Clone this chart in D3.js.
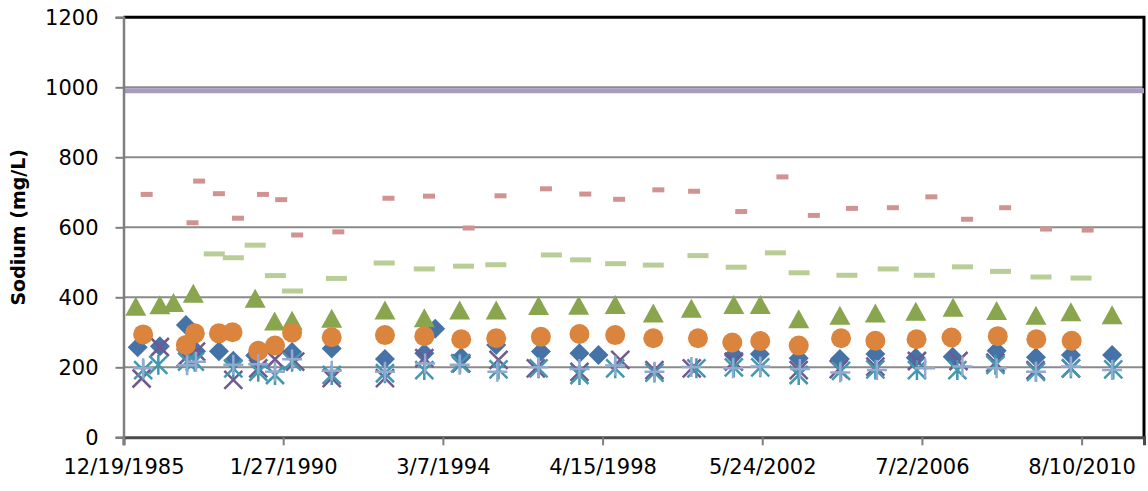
<!DOCTYPE html>
<html>
<head>
<meta charset="utf-8">
<script src="https://cdn.jsdelivr.net/npm/d3@7"></script>
<style>
  body { margin: 0; background: #fff; }
  text { font-family: "DejaVu Sans", sans-serif; fill: #000; }
</style>
</head>
<body>
<div class="content"></div>
<script>
const SVG_WIDTH = 1148
const SVG_HEIGHT = 491

// axis settings
const xStart = new Date(1985, 11, 19)
const xEnd = new Date(2012, 2, 18)
const xTickStepDays = 1500
const xTickCount = 7
const yTicks = [0, 200, 400, 600, 800, 1000, 1200]

// [decimal year, sodium mg/L]
const diamondData = [[1986.33,257],[1986.90,260],[1987.57,321],[1987.83,246],[1988.42,246],[1988.79,219],[1989.35,234],[1990.30,244],[1991.32,254],[1992.69,224],[1993.70,240],[1993.98,310],[1994.65,229],[1995.55,264],[1996.70,245],[1997.69,240],[1998.18,235],[2001.66,235],[2002.33,238],[2003.33,226],[2004.39,224],[2005.30,238],[2006.34,227],[2007.29,230],[2008.42,247],[2009.43,229],[2010.33,235],[2011.39,235]]
const triangleData = [[1986.28,373],[1986.90,377],[1987.25,384],[1987.76,410],[1989.35,396],[1989.85,331],[1990.30,333],[1991.32,339],[1992.69,362],[1993.70,340],[1994.61,362],[1995.55,362],[1996.64,375],[1997.67,376],[1998.61,378],[1999.59,354],[2000.57,367],[2001.66,378],[2002.34,378],[2003.33,337],[2004.39,347],[2005.30,354],[2006.34,359],[2007.30,370],[2008.42,361],[2009.43,347],[2010.33,357],[2011.39,349]]
const xMarkData = [[1986.43,168],[1986.90,258],[1987.57,228],[1987.83,245],[1988.79,164],[1989.43,197],[1989.86,223],[1990.38,216],[1991.32,169],[1992.69,169],[1993.70,226],[1994.65,211],[1995.61,221],[1996.57,197],[1997.69,187],[1998.74,221],[1999.62,192],[2000.58,197],[2001.66,216],[2003.33,192],[2004.36,195],[2005.30,202],[2006.37,218],[2007.44,218],[2008.39,213],[2009.42,192],[2010.33,197]]
const starData = [[1986.47,192],[1986.86,207],[1987.60,216],[1987.80,216],[1988.79,197],[1989.43,187],[1989.86,178],[1990.30,216],[1991.32,178],[1992.69,183],[1993.70,192],[1994.62,211],[1995.61,194],[1996.64,197],[1997.69,178],[1998.61,197],[1999.62,185],[2000.70,197],[2001.66,200],[2002.34,200],[2003.33,178],[2004.42,190],[2005.30,194],[2006.37,192],[2007.41,192],[2008.39,207],[2009.43,187],[2010.33,197],[2011.42,194]]
const circleData = [[1986.47,294],[1987.57,264],[1987.80,297],[1988.42,297],[1988.77,300],[1989.43,247],[1989.86,262],[1990.30,299],[1991.32,286],[1992.69,292],[1993.70,289],[1994.65,280],[1995.55,283],[1996.70,287],[1997.69,295],[1998.61,292],[1999.59,283],[2000.74,283],[2001.62,271],[2002.34,275],[2003.33,262],[2004.42,283],[2005.30,276],[2006.36,280],[2007.26,285],[2008.45,289],[2009.44,280],[2010.35,276]]
const plusData = [[1986.47,197],[1987.60,206],[1987.83,216],[1988.79,207],[1989.43,209],[1989.86,187],[1990.30,223],[1991.32,190],[1992.69,187],[1993.72,211],[1994.61,207],[1995.58,187],[1996.64,200],[1997.69,195],[1998.61,205],[1999.62,187],[2000.57,201],[2001.64,197],[2002.34,202],[2003.36,195],[2004.40,185],[2005.34,192],[2006.58,197],[2007.54,202],[2008.42,197],[2009.43,187],[2010.33,202],[2011.39,192]]
const shortDashData = [[1986.56,694],[1987.74,613],[1987.91,732],[1988.42,696],[1988.91,626],[1989.55,694],[1990.02,679],[1990.43,578],[1991.49,587],[1992.78,683],[1993.82,689],[1994.84,598],[1995.66,690],[1996.83,710],[1997.84,695],[1998.71,680],[1999.72,707],[2000.64,703],[2001.85,645],[2002.91,744],[2003.72,634],[2004.70,654],[2005.75,656],[2006.74,687],[2007.66,623],[2008.64,656],[2009.69,595],[2010.76,592]]
const longDashData = [[1988.30,524],[1988.79,513],[1989.35,549],[1989.87,462],[1990.31,418],[1991.44,454],[1992.67,498],[1993.70,481],[1994.71,489],[1995.54,493],[1996.97,521],[1997.72,507],[1998.62,496],[1999.59,492],[2000.74,519],[2001.72,486],[2002.73,527],[2003.34,470],[2004.57,463],[2005.63,481],[2006.56,463],[2007.54,487],[2008.52,474],[2009.56,458],[2010.59,455]]
const limitValue = 990

function toDate(yr){
    let y = Math.floor(yr);
    let start = new Date(y, 0, 1);
    return new Date(start.getTime() + (yr - y) * 365.25 * 864e5);
}

// marker shapes, centred on the point
const SHAPES = {
    diamond: {fill: true, d: "M0,-10L10,0L0,10L-10,0Z"},
    triangle: {fill: true, d: "M0,-10L10.5,9L-10.5,9Z"},
    circle: {fill: true, d: "M10,0A10,10 0 1,1 -10,0A10,10 0 1,1 10,0Z"},
    xmark: {fill: false, d: "M-9,-9L9,9M-9,9L9,-9"},
    star: {fill: false, d: "M-9,-9L9,9M-9,9L9,-9M0,-10L0,10"},
    plus: {fill: false, d: "M-10,0L10,0M0,-10L0,10"},
    shortdash: {fill: true, d: "M-6,-2.5h12v5h-12Z"},
    longdash: {fill: true, d: "M-10.5,-2.5h21v5h-21Z"}
}

const series = [
    {name: "diamond", data: diamondData, shape: "diamond", color: "#4572A7"},
    {name: "triangle", data: triangleData, shape: "triangle", color: "#89A54E"},
    {name: "xmark", data: xMarkData, shape: "xmark", color: "#71588F"},
    {name: "star", data: starData, shape: "star", color: "#4198AF"},
    {name: "circle", data: circleData, shape: "circle", color: "#DB843D"},
    {name: "plus", data: plusData, shape: "plus", color: "#93A9CF"},
    {name: "shortdash", data: shortDashData, shape: "shortdash", color: "#D19392"},
    {name: "longdash", data: longDashData, shape: "longdash", color: "#B9CD96"}
]

const svg = d3.select(".content").append("svg").attr("width", SVG_WIDTH).attr("height", SVG_HEIGHT)

let xscale = d3.scaleTime().domain([xStart, xEnd]).range([123.5, 1144])
let yscale = d3.scaleLinear().domain([0, 1200]).range([437.3, 17.3])

//gridlines
svg.append("g").attr("class", "grid")
    .selectAll("line")
    .data(yTicks.filter(v => v > 0 && v < 1200))
    .join("line")
    .attr("x1", xscale.range()[0]).attr("x2", xscale.range()[1])
    .attr("y1", d => yscale(d)).attr("y2", d => yscale(d))
    .style("stroke", "#8a8a8a")
    .style("stroke-width", 2)

// plot frame (top + right)
svg.append("path")
    .attr("d", `M${xscale.range()[0]},${yscale(1200)}H${xscale.range()[1]}V${yscale(0)}`)
    .style("fill", "none")
    .style("stroke", "#000")
    .style("stroke-width", 3)

// limit line
svg.append("line")
    .attr("x1", xscale(xStart)).attr("x2", xscale(xEnd))
    .attr("y1", yscale(limitValue)).attr("y2", yscale(limitValue))
    .style("stroke", "#A99BBD")
    .style("stroke-width", 5)

// markers
let markerGroups = svg.append("g").attr("class", "markers")
    .selectAll("g")
    .data(series)
    .join("g")

markerGroups.selectAll("path")
    .data(s => s.data.map(p => ({date: toDate(p[0]), value: p[1], s: s})))
    .join("path")
    .attr("transform", d => `translate(${xscale(d.date)},${yscale(d.value)})`)
    .attr("d", d => SHAPES[d.s.shape].d)
    .style("fill", d => SHAPES[d.s.shape].fill ? d.s.color : "none")
    .style("stroke", d => SHAPES[d.s.shape].fill ? "none" : d.s.color)
    .style("stroke-width", 2.5)

// axes
let xTickValues = d3.range(xTickCount).map(k => d3.timeDay.offset(xStart, k * xTickStepDays))
let xaxis = d3.axisBottom(xscale)
    .tickValues(xTickValues)
    .tickFormat(d3.timeFormat("%-m/%-d/%Y"))
    .tickSize(8)
    .tickPadding(14)
let yaxis = d3.axisLeft(yscale)
    .tickValues(yTicks)
    .tickFormat(d3.format("d"))
    .tickSize(8)
    .tickPadding(17)

let xg = svg.append("g").attr("transform", `translate(0,${yscale(0)})`).call(xaxis)
let yg = svg.append("g").attr("transform", `translate(${xscale.range()[0]},0)`).call(yaxis)

yg.select(".domain").style("stroke", "#7f7f7f").style("stroke-width", 2.5)
yg.selectAll(".tick line").style("stroke", "#7f7f7f").style("stroke-width", 2)
xg.select(".domain").style("stroke", "#4a4a4a").style("stroke-width", 3)
xg.selectAll(".tick line").style("stroke", "#7f7f7f").style("stroke-width", 2)
svg.selectAll(".tick text").style("font-size", "21px").style("font-family", "DejaVu Sans").style("fill", "#000")

// y axis label
svg.append("text")
    .attr("transform", `translate(25,${(yscale(0) + yscale(1200)) / 2}) rotate(-90)`)
    .attr("text-anchor", "middle")
    .style("font-size", "19px")
    .style("font-weight", "bold")
    .text("Sodium (mg/L)")
</script>
</body>
</html>
